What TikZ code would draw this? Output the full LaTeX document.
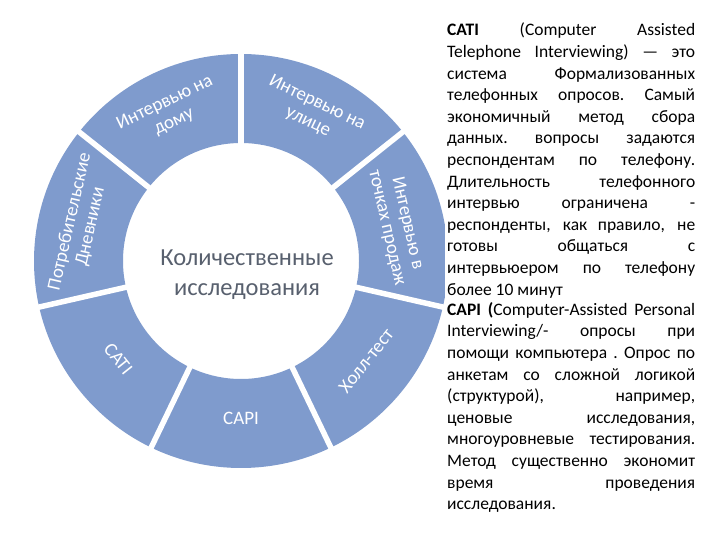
\documentclass[tikz,border=0pt]{standalone}
\usepackage{fontspec}
\setmainfont{Carlito}
\usetikzlibrary{calc}
\definecolor{ringblue}{RGB}{127,155,205}
\definecolor{centergray}{RGB}{88,96,110}
\newlength{\tw}\setlength{\tw}{248pt}
\newcommand{\jline}[1]{\hbox to \tw{\spaceskip=0.25em plus 1fil minus 0.08em\xspaceskip=\spaceskip #1}}
\tikzset{
  seglabel/.style={text=white, font=\fontsize{19}{21}\selectfont, align=center, inner sep=0pt},
  txtline/.style={anchor=base west, inner sep=0pt, text=black, font=\fontsize{17.5}{20}\selectfont},
  gapline/.style={white, line width=5.5pt}
}
\begin{document}
\begin{tikzpicture}[x=1pt,y=1pt]
\useasboundingbox (0,0) rectangle (720,540);
\fill[white] (0,0) rectangle (720,540);
\coordinate (C) at (241,279);
% ring
\fill[ringblue, even odd rule] (C) circle (207) (C) circle (118);
\foreach \a in {90, 38.571, -12.857, -64.286, -115.714, -167.143, 141.429}{
  \draw[gapline] ($(C)+(\a:110)$) -- ($(C)+(\a:215)$);
}
% segment labels
\node[seglabel, rotate=25.714] (s1) at ($(C)+(115.714:165)$) {Интервью на\\дому};
\node[seglabel, rotate=-25.714] (s2) at ($(C)+(64.286:165)$) {Интервью на\\улице};
\node[seglabel, rotate=-77.143] (s3) at ($(C)+(12.857:160)$) {Интервью в\\точках продаж};
\node[seglabel, rotate=51.429] (s4) at ($(C)+(-38.571:160)$) {Холл-тест};
\node[seglabel, rotate=0] (s5) at ($(C)+(-90:157)$) {CAPI};
\node[seglabel, rotate=-51.429] (s6) at ($(C)+(-141.429:157)$) {CATI};
\node[seglabel, rotate=77.143] (s7) at ($(C)+(167.143:165)$) {Потребительские\\Дневники};
% centre text
\node[text=centergray, font=\fontsize{24.5}{30}\selectfont, align=center, inner sep=0pt] (ctr) at (247,265) {Количественные\\исследования};
% text panel
\fill[white] (445,0) rectangle (720,540);
\node[txtline] (l1) at (447,504) {\jline{\textbf{CATI} (Computer Assisted}};
\node[txtline] (l2) at (447,482.4) {\jline{Telephone Interviewing) — это}};
\node[txtline] (l3) at (447,460.8) {\jline{система Формализованных}};
\node[txtline] (l4) at (447,439.2) {\jline{телефонных опросов. Самый}};
\node[txtline] (l5) at (447,417.6) {\jline{экономичный метод сбора}};
\node[txtline] (l6) at (447,396) {\jline{данных. вопросы задаются}};
\node[txtline] (l7) at (447,374.4) {\jline{респондентам по телефону.}};
\node[txtline] (l8) at (447,352.8) {\jline{Длительность телефонного}};
\node[txtline] (l9) at (447,331.2) {\jline{интервью ограничена -}};
\node[txtline] (l10) at (447,309.6) {\jline{респонденты, как правило, не}};
\node[txtline] (l11) at (447,288) {\jline{готовы общаться с}};
\node[txtline] (l12) at (447,266.4) {\jline{интервьюером по телефону}};
\node[txtline] (l13) at (447,244.8) {более 10 минут};
\node[txtline] (l14) at (447,224) {\jline{\textbf{CAPI (}Computer-Assisted Personal}};
\node[txtline] (l15) at (447,203) {\jline{Interviewing/- опросы при}};
\node[txtline] (l16) at (447,181.4) {\jline{помощи компьютера . Опрос по}};
\node[txtline] (l17) at (447,159.8) {\jline{анкетам со сложной логикой}};
\node[txtline] (l18) at (447,138.2) {\jline{(структурой), например,}};
\node[txtline] (l19) at (447,116.6) {\jline{ценовые исследования,}};
\node[txtline] (l20) at (447,95) {\jline{многоуровневые тестирования.}};
\node[txtline] (l21) at (447,73.4) {\jline{Метод существенно экономит}};
\node[txtline] (l22) at (447,51.8) {\jline{время проведения}};
\node[txtline] (l23) at (447,30.2) {исследования.};
\end{tikzpicture}
\end{document}
